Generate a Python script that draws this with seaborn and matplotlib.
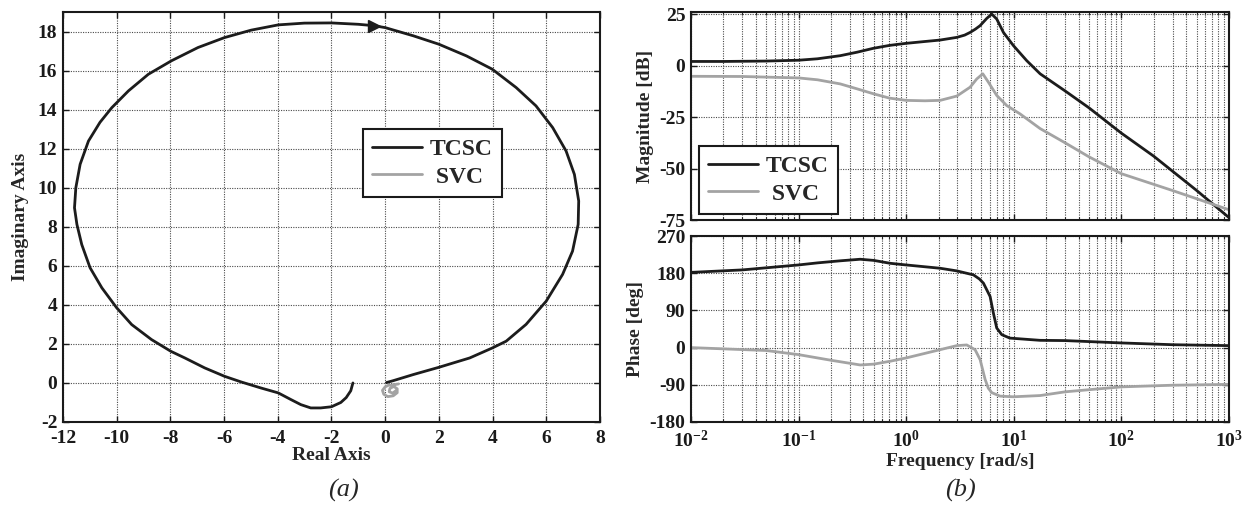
import numpy as np
import pandas as pd
import matplotlib
matplotlib.use("Agg")
import matplotlib.pyplot as plt
import matplotlib.ticker as mticker
import seaborn as sns

# ---------------- data ----------------
# Nyquist, TCSC
tcsc_re = [-1.20, -1.28, -1.45, -1.65, -2.00, -2.40, -2.77, -3.14, -3.51, -3.98, -4.62, -5.36,
           -5.98, -6.72, -7.46, -7.98, -8.70, -9.44, -10.00, -10.55, -10.99, -11.30, -11.48,
           -11.57, -11.52, -11.36, -11.05, -10.62, -10.18, -9.56, -8.82, -7.96, -6.97, -5.98,
           -4.99, -3.98, -3.01, -2.00, -1.00, -0.43, 0.00, 1.05, 2.00, 3.03, 3.99, 4.88, 5.62,
           6.24, 6.74, 7.05, 7.21, 7.19, 6.98, 6.61, 6.00, 5.25, 4.51, 3.99, 3.15, 2.00, 1.05,
           0.31, 0.05]
tcsc_im = [0.00, -0.40, -0.75, -1.00, -1.22, -1.28, -1.28, -1.11, -0.85, -0.51, -0.26, 0.05,
           0.34, 0.77, 1.28, 1.62, 2.22, 2.99, 3.85, 4.87, 5.90, 7.09, 8.12,
           8.97, 10.00, 11.20, 12.39, 13.35, 14.10, 14.96, 15.81, 16.50, 17.18, 17.69,
           18.07, 18.34, 18.43, 18.44, 18.37, 18.30, 18.20, 17.78, 17.35, 16.75, 16.07, 15.13, 14.19,
           13.08, 11.88, 10.68, 9.32, 8.12, 6.75, 5.56, 4.19, 3.00, 2.14, 1.79, 1.28, 0.80, 0.43,
           0.12, 0.02]
arrow_idx = 39

# Nyquist, SVC (small curl near the origin)
svc_re = [0.50, 0.30, 0.12, 0.00, -0.10, -0.05, 0.10, 0.30, 0.45, 0.45, 0.32, 0.18, 0.15, 0.28, 0.40]
svc_im = [-0.05, -0.10, -0.12, -0.20, -0.38, -0.58, -0.70, -0.66, -0.50, -0.30, -0.18, -0.28, -0.45, -0.52, -0.40]

# Bode magnitude [dB]
tcsc_w = [0.01, 0.02, 0.05, 0.1, 0.15, 0.244, 0.35, 0.497, 0.7, 1.0, 1.5, 2.07, 2.96, 3.5,
          3.93, 4.4, 4.87, 5.61, 6.25, 6.95, 8.02, 9.93, 13.2, 17.6, 30, 50, 100, 200, 500, 1000]
tcsc_mag = [2.0, 2.0, 2.2, 2.6, 3.3, 4.8, 6.5, 8.4, 9.8, 10.8, 11.7, 12.4, 13.7, 14.8,
            16.1, 17.7, 19.4, 22.9, 25.0, 22.6, 16.1, 9.7, 2.4, -4.0, -12.3, -20.5, -32.8,
            -44.0, -60.6, -73.8]
svc_w = [0.01, 0.03, 0.1, 0.15, 0.244, 0.35, 0.497, 0.7, 1.0, 1.5, 2.07, 2.96, 3.93, 4.53,
         5.16, 5.82, 6.95, 8.6, 11.4, 17.6, 30, 50, 100, 300, 1000]
svc_mag = [-5.2, -5.3, -6.0, -6.9, -8.9, -11.3, -13.7, -15.8, -16.9, -17.1, -16.9, -14.8,
           -10.5, -6.5, -4.0, -8.1, -14.5, -19.4, -23.4, -30.6, -37.5, -44.3, -52.5, -60.7, -70.0]

# Bode phase [deg]
tcsc_pw = [0.01, 0.03, 0.1, 0.15, 0.244, 0.374, 0.5, 0.71, 1.0, 2.07, 2.96, 4.22, 4.8, 5.23,
           6.03, 6.47, 6.95, 7.74, 9.2, 17.6, 30, 100, 300, 1000]
tcsc_phase = [182, 188, 200, 205, 210, 213.8, 211, 204, 200, 192, 185.6, 176, 166, 155.9,
              123.7, 83.5, 47.4, 31.3, 23, 17.6, 17, 11.3, 7, 4.8]
svc_pw = [0.01, 0.05, 0.1, 0.2, 0.374, 0.5, 0.71, 1.0, 2.07, 2.96, 3.66, 4.37, 4.87, 5.42,
          5.8, 6.25, 7.46, 9.93, 17.6, 30, 100, 300, 1000]
svc_phase = [0, -7, -17, -30.6, -42, -40, -33, -25, -5, 4.8, 6.4, -5, -29, -77,
             -98, -109, -117.4, -119, -116, -107, -95, -91, -89]

series_names = ["TCSC", " SVC"]
colors = {"TCSC": "#1c1c1c", " SVC": "#a3a3a3"}

# ---------------- style ----------------
sns.set_theme(style="ticks")
plt.rcParams["font.family"] = ["Liberation Serif", "DejaVu Serif"]
plt.rcParams["font.weight"] = "bold"
plt.rcParams["axes.labelweight"] = "bold"
plt.rcParams["axes.unicode_minus"] = False
plt.rcParams["mathtext.fontset"] = "custom"
plt.rcParams["mathtext.rm"] = "Liberation Serif:bold"
plt.rcParams["mathtext.bf"] = "Liberation Serif:bold"
plt.rcParams["mathtext.it"] = "Liberation Serif:italic"

fig = plt.figure(figsize=(12.54, 5.08), dpi=100)
ax_n = fig.add_axes([0.0502, 0.1693, 0.4282, 0.8071])
ax_m = fig.add_axes([0.5510, 0.5669, 0.4290, 0.4094])
ax_p = fig.add_axes([0.5510, 0.1693, 0.4290, 0.3661])

grid_kw = dict(color="#4a4a4a", linestyle=(0, (1, 1.2)), linewidth=0.8)
TICK_FS = 14
LW = 2.0

def style_axes(ax):
    for s in ax.spines.values():
        s.set_linewidth(1.5)
        s.set_color("#1a1a1a")
    ax.tick_params(direction="in", top=True, right=True, length=4, width=1,
                   labelsize=TICK_FS, colors="#1a1a1a", pad=4)
    ax.tick_params(which="minor", direction="in", top=True, right=True, length=2.5, width=0.8)

leg_kw = dict(fontsize=17, frameon=True, fancybox=False, edgecolor="#1a1a1a",
              handlelength=2.1, handletextpad=0.35, borderpad=0.4, labelspacing=0.25,
              framealpha=1, borderaxespad=0)

# ---------------- Nyquist ----------------
df_n_t = pd.DataFrame({"re": tcsc_re, "im": tcsc_im})
df_n_s = pd.DataFrame({"re": svc_re, "im": svc_im})
sns.lineplot(data=df_n_t, x="re", y="im", sort=False, ax=ax_n, color=colors["TCSC"],
             lw=LW, label=series_names[0], estimator=None)
sns.lineplot(data=df_n_s, x="re", y="im", sort=False, ax=ax_n, color=colors[" SVC"],
             lw=LW, label=series_names[1], estimator=None)
ax_n.plot([tcsc_re[arrow_idx]], [tcsc_im[arrow_idx]], marker=">", ms=8,
          color=colors["TCSC"], ls="none")
ax_n.set_xlim(-12, 8)
ax_n.set_ylim(-2, 19)
ax_n.set_xticks(np.arange(-12, 9, 2))
ax_n.set_yticks(np.arange(-2, 19, 2))
ax_n.grid(True, **grid_kw)
ax_n.set_xlabel("Real Axis", fontsize=14, labelpad=0)
ax_n.set_ylabel("Imaginary Axis", fontsize=14, labelpad=6)
style_axes(ax_n)
ax_n.tick_params(axis="x", pad=6)
leg = ax_n.legend(loc="upper left", bbox_to_anchor=(0.558, 0.714), **leg_kw)
leg.get_frame().set_linewidth(1.5)

# ---------------- Bode magnitude ----------------
df_m_t = pd.DataFrame({"w": tcsc_w, "mag": tcsc_mag})
df_m_s = pd.DataFrame({"w": svc_w, "mag": svc_mag})
sns.lineplot(data=df_m_t, x="w", y="mag", ax=ax_m, color=colors["TCSC"], lw=LW,
             label=series_names[0], estimator=None)
sns.lineplot(data=df_m_s, x="w", y="mag", ax=ax_m, color=colors[" SVC"], lw=LW,
             label=series_names[1], estimator=None)
ax_m.set_xscale("log")
ax_m.set_xlim(1e-2, 1e3)
ax_m.set_ylim(-75, 26)
ax_m.set_yticks([25, 0, -25, -50, -75])
ax_m.xaxis.set_minor_locator(mticker.LogLocator(base=10, subs=np.arange(2, 10), numticks=20))
ax_m.tick_params(labelbottom=False)
ax_m.grid(True, which="both", **grid_kw)
ax_m.set_xlabel("")
ax_m.set_ylabel("Magnitude [dB]", fontsize=14, labelpad=4)
style_axes(ax_m)
leg2 = ax_m.legend(loc="lower left", bbox_to_anchor=(0.0146, 0.029), **leg_kw)
leg2.get_frame().set_linewidth(1.5)

# ---------------- Bode phase ----------------
df_p_t = pd.DataFrame({"w": tcsc_pw, "ph": tcsc_phase})
df_p_s = pd.DataFrame({"w": svc_pw, "ph": svc_phase})
sns.lineplot(data=df_p_t, x="w", y="ph", ax=ax_p, color=colors["TCSC"], lw=LW,
             estimator=None, legend=False)
sns.lineplot(data=df_p_s, x="w", y="ph", ax=ax_p, color=colors[" SVC"], lw=LW,
             estimator=None, legend=False)
ax_p.set_xscale("log")
ax_p.set_xlim(1e-2, 1e3)
ax_p.set_ylim(-180, 270)
ax_p.set_yticks([-180, -90, 0, 90, 180, 270])
ax_p.xaxis.set_major_locator(mticker.LogLocator(base=10, numticks=10))
ax_p.xaxis.set_minor_locator(mticker.LogLocator(base=10, subs=np.arange(2, 10), numticks=20))
ax_p.xaxis.set_major_formatter(mticker.FuncFormatter(
    lambda v, _: r"$\mathbf{10^{%d}}$" % int(round(np.log10(v)))))
ax_p.grid(True, which="both", **grid_kw)
ax_p.set_xlabel("Frequency [rad/s]", fontsize=14, labelpad=1)
ax_p.set_ylabel("Phase [deg]", fontsize=14, labelpad=4)
style_axes(ax_p)
ax_p.tick_params(axis="x", labelsize=14, pad=6)

# ---------------- panel captions ----------------
fig.text(0.2735, 0.035, "(a)", fontsize=19, fontstyle="italic", fontweight="normal",
         ha="center", va="center")
fig.text(0.766, 0.035, "(b)", fontsize=19, fontstyle="italic", fontweight="normal",
         ha="center", va="center")

fig.savefig("out.png", dpi=100)
